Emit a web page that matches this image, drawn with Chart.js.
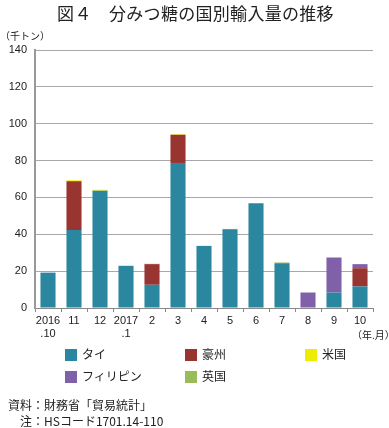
<!DOCTYPE html>
<html><head><meta charset="utf-8">
<script src="https://cdn.jsdelivr.net/npm/chart.js@4/dist/chart.umd.min.js"></script>
<style>
html,body{margin:0;padding:0;background:#fff;}
#wrap{position:relative;width:389px;height:428px;overflow:hidden;font-family:"Noto Sans CJK JP","Liberation Sans",sans-serif;color:#222;}
#c{position:absolute;left:0;top:0;}
.t{position:absolute;white-space:nowrap;}
#title{left:0;width:391px;text-align:center;top:0px;font-size:17px;font-weight:400;letter-spacing:0.3px;}
#unit{left:0;top:28px;font-size:10px;}
#ym{left:352px;top:327px;font-size:10px;}
.lg{position:absolute;font-size:12px;}
.lg i{position:absolute;left:0;top:1px;width:12px;height:12px;}
.lg span{position:absolute;left:17px;top:-3px;white-space:nowrap;}
#n1{left:8px;top:396px;font-size:12px;}
#n2{left:20px;top:412px;font-size:12px;}
</style></head>
<body><div id="wrap">
<canvas id="c" width="389" height="428"></canvas>
<div class="t" id="title">図４　分みつ糖の国別輸入量の推移</div>
<div class="t" id="unit">（千トン）</div>
<div class="t" id="ym">（年.月）</div>
<div id="legend"></div>
<div class="t" id="n1">資料：財務省「貿易統計」</div>
<div class="t" id="n2">注：HSコード1701.14-110</div>
</div>
<script>
const categories = [["2016",".10"],"11","12",["2017",".1"],"2","3","4","5","6","7","8","9","10"];
const thai        = [19.2, 42.3, 63.6, 22.9, 12.6, 78.7, 33.7, 42.7, 56.8, 24.3, 0,   8.4, 11.7];
const australia   = [0,    26.5, 0,    0,    11.2, 15.3, 0,    0,    0,    0,    0,   0,   9.9];
const usa         = [0,    0.5,  0.3,  0,    0.3,  0.3,  0,    0,    0,    0,    0,   0,   0];
const philippines = [0,    0,    0,    0,    0,    0,    0,    0,    0,    0,    8.4, 19.0, 2.2];
const uk          = [0,    0,    0.2,  0,    0,    0,    0,    0.2,  0,    0.4,  0,   0,   0];
const yTicks = [0,20,40,60,80,100,120,140];

const series = [
  {label:"タイ", data:thai, color:"#2b87a0"},
  {label:"豪州", data:australia, color:"#983531"},
  {label:"米国", data:usa, color:"#eeec00"},
  {label:"フィリピン", data:philippines, color:"#8061a9"},
  {label:"英国", data:uk, color:"#9bbb59"}
];

const chart = new Chart(document.getElementById('c'), {
  type:'bar',
  data:{
    labels:categories,
    datasets:series.map(s=>({label:s.label,data:s.data,backgroundColor:s.color,borderWidth:0,
      barPercentage:0.58,categoryPercentage:1.0}))
  },
  options:{
    responsive:false,animation:false,
    layout:{padding:{top:50,right:16,left:0,bottom:0}},
    plugins:{legend:{display:false},tooltip:{enabled:false},title:{display:false}},
    scales:{
      x:{stacked:true,
        grid:{display:true,drawOnChartArea:false,drawTicks:true,tickLength:4,color:'#888',offset:true},
        border:{display:true,color:'#888',width:1},
        ticks:{color:'#222',font:{family:'"Liberation Sans", Arial',size:11},padding:2,maxRotation:0,autoSkip:false},
        afterFit:s=>{s.height=120;}
      },
      y:{stacked:true,min:0,max:140,
        afterBuildTicks:s=>{s.ticks=yTicks.map(v=>({value:v}));},
        grid:{color:'#a8a8a8',lineWidth:1,drawTicks:false},
        border:{display:true,color:'#999',width:2},
        ticks:{color:'#222',font:{family:'"Liberation Sans", Arial',size:11},padding:8},
        afterFit:s=>{s.width=35;}
      }
    }
  }
});

// HTML legend from datasets
const pos=[[65,348],[185,348],[305,348],[65,370],[185,370]];
const lg=document.getElementById('legend');
series.forEach((s,i)=>{
  const d=document.createElement('div');d.className='lg';
  d.style.left=pos[i][0]+'px';d.style.top=pos[i][1]+'px';
  d.innerHTML='<i style="background:'+s.color+'"></i><span>'+s.label+'</span>';
  lg.appendChild(d);
});
</script>
</body></html>
